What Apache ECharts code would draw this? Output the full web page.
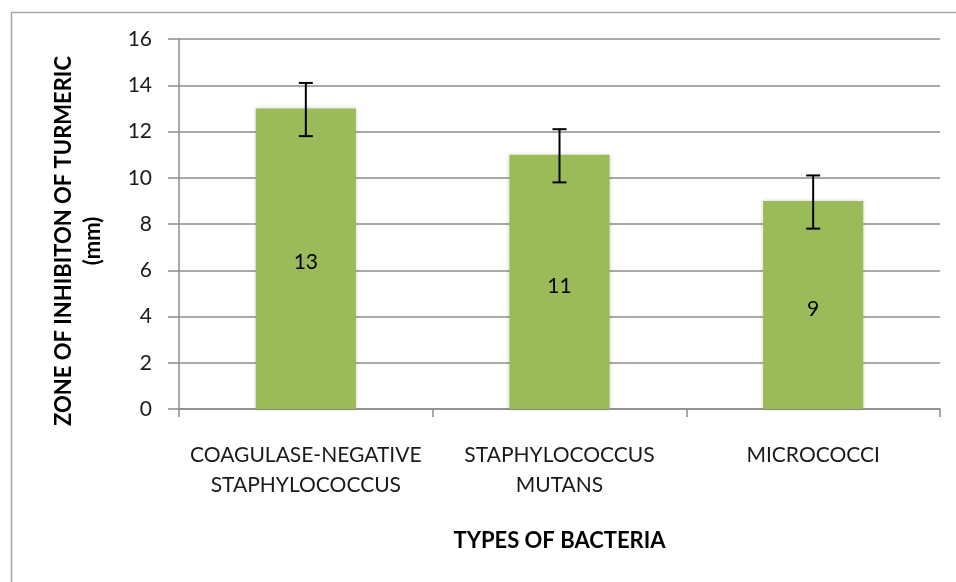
<!DOCTYPE html>
<html>
<head>
<meta charset="utf-8">
<script src="https://cdn.jsdelivr.net/npm/echarts@6/dist/echarts.min.js"></script>
<style>
html,body{margin:0;padding:0;background:#fff;}
#c{width:956px;height:582px;}
</style>
</head>
<body>
<div id="c"></div>
<script>
var categories = ['COAGULASE-NEGATIVE\nSTAPHYLOCOCCUS', 'STAPHYLOCOCCUS\nMUTANS', 'MICROCOCCI'];
var values = [13, 11, 9];
var errLow = [11.8, 9.8, 7.8];
var errHigh = [14.1, 12.1, 10.1];
var yTicks = [0, 2, 4, 6, 8, 10, 12, 14, 16];

var FONT = 'Lato';
var chart = echarts.init(document.getElementById('c'));
var errData = categories.map(function (c, i) { return [i, errLow[i], errHigh[i]]; });

chart.setOption({
  animation: false,
  backgroundColor: '#fff',
  graphic: [
    { type: 'rect', left: 9, top: 10, shape: { x: 0, y: 0, width: 1000, height: 600 },
      style: { fill: 'none', stroke: '#a6a6a6', lineWidth: 1.5 }, silent: true, z: -1 },
    { type: 'text', x: 78, y: 241, rotation: Math.PI / 2,
      style: { text: 'ZONE OF INHIBITON OF TURMERIC\n(mm)', font: 'bold 22px ' + FONT,
        fill: '#000', textAlign: 'center', textVerticalAlign: 'middle', lineHeight: 29 } }
  ],
  grid: { left: 179, top: 39, right: 16, bottom: 173, containLabel: false },
  xAxis: {
    type: 'category',
    data: categories,
    name: 'TYPES OF BACTERIA',
    nameLocation: 'middle',
    nameGap: 121,
    nameTextStyle: { fontFamily: FONT, fontWeight: 'bold', fontSize: 22, color: '#000' },
    axisLine: { lineStyle: { color: '#8c8c8c', width: 1.5 } },
    axisTick: { show: true, length: 8, lineStyle: { color: '#8c8c8c', width: 1.5 } },
    axisLabel: { fontFamily: FONT, fontSize: 21, color: '#1a1a1a', lineHeight: 30, margin: 31, interval: 0 }
  },
  yAxis: {
    type: 'value',
    min: 0, max: 16, interval: 2,
    axisLine: { show: true, lineStyle: { color: '#8c8c8c', width: 1.5 } },
    axisTick: { show: true, length: 11, lineStyle: { color: '#8c8c8c', width: 1.5 } },
    splitLine: { lineStyle: { color: '#8c8c8c', width: 1.5 } },
    axisLabel: { fontFamily: FONT, fontSize: 21, color: '#1a1a1a', margin: 27,
      formatter: function (v) { return yTicks.indexOf(v) >= 0 ? String(v) : ''; } }
  },
  series: [
    {
      type: 'bar',
      data: values,
      barWidth: '39.5%',
      itemStyle: { color: '#9bbb59', shadowBlur: 4, shadowColor: 'rgba(0,0,0,0.18)' },
      label: { show: true, position: 'inside', offset: [0, 4], fontFamily: FONT, fontSize: 21, color: '#000' }
    },
    {
      type: 'custom',
      data: errData,
      z: 10,
      renderItem: function (params, api) {
        var x = api.value(0);
        var lo = api.coord([x, api.value(1)]);
        var hi = api.coord([x, api.value(2)]);
        var hw = 7;
        var st = { stroke: '#000', lineWidth: 2 };
        return { type: 'group', children: [
          { type: 'line', shape: { x1: hi[0], y1: hi[1], x2: lo[0], y2: lo[1] }, style: st },
          { type: 'line', shape: { x1: hi[0] - hw, y1: hi[1], x2: hi[0] + hw, y2: hi[1] }, style: st },
          { type: 'line', shape: { x1: lo[0] - hw, y1: lo[1], x2: lo[0] + hw, y2: lo[1] }, style: st }
        ] };
      }
    }
  ]
});
</script>
</body>
</html>
